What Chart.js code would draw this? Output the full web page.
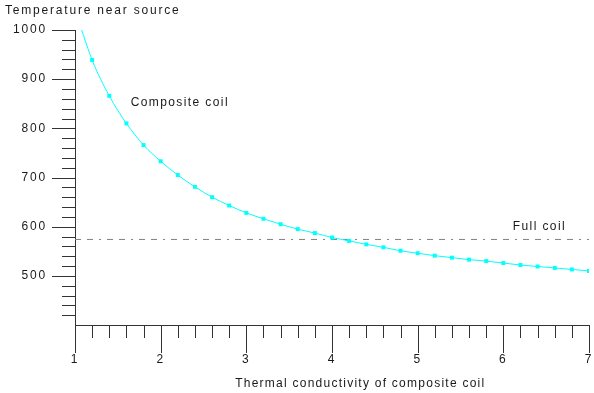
<!DOCTYPE html>
<html>
<head>
<meta charset="utf-8">
<script src="https://cdn.jsdelivr.net/npm/chart.js@4.4.1/dist/chart.umd.min.js"></script>
<style>
  body { margin: 0; background: #fff; }
  canvas { display: block; }
</style>
</head>
<body>
<canvas id="coilChart" width="594" height="393"></canvas>
<script>
// thermal conductivity of the composite coil (x) and temperature near source (y)
const conductivity = [1.0, 1.2, 1.4, 1.6, 1.8, 2.0, 2.2, 2.4, 2.6, 2.8, 3.0,
                      3.2, 3.4, 3.6, 3.8, 4.0, 4.2, 4.4, 4.6, 4.8, 5.0,
                      5.2, 5.4, 5.6, 5.8, 6.0, 6.2, 6.4, 6.6, 6.8, 7.0];
const compositeTemp = [1042, 939, 866, 810, 766, 733, 705, 681, 660, 643, 628,
                       616, 605, 595, 587, 578, 571, 564, 558, 551, 546,
                       541, 537, 533, 530, 526, 522, 519, 516, 513, 510];
const fullCoilTemp = 574;
const xRange = [1, 7];
const yRange = [400, 1000];

const axisColor = '#333';
const textColor = '#1a1a1a';
const fontFamily = '"Liberation Sans", Arial, Helvetica, sans-serif';

Chart.defaults.font.family = fontFamily;
Chart.defaults.font.size = 12;
Chart.defaults.color = textColor;

// wide letter spacing like the original plot
const spacing = {
    id: 'spacing',
    beforeDraw(chart) {
        chart.ctx.letterSpacing = '1.8px';
    }
};

// major and minor tick marks of different length, drawn from the scales
const tickMarks = {
    id: 'tickMarks',
    afterDraw(chart) {
        const ctx = chart.ctx;
        const x = chart.scales.x;
        const y = chart.scales.y;
        ctx.save();
        ctx.strokeStyle = axisColor;
        ctx.lineWidth = 1;
        ctx.beginPath();
        x.ticks.forEach(t => {
            const px = Math.round(x.getPixelForValue(t.value)) + 0.5;
            const major = Math.abs(t.value - Math.round(t.value)) < 1e-6;
            ctx.moveTo(px, x.top);
            ctx.lineTo(px, x.top + (major ? 28 : 13));
        });
        y.ticks.forEach(t => {
            if (t.value === yRange[0]) return;
            const py = Math.round(y.getPixelForValue(t.value)) + 0.5;
            const major = t.value % 100 === 0;
            ctx.moveTo(y.right - (major ? 23 : 13), py);
            ctx.lineTo(y.right, py);
        });
        ctx.stroke();
        ctx.restore();
    }
};

// curve names inside the plot and the x axis title (which sits off-centre in the original)
const freeText = {
    id: 'freeText',
    afterDatasetsDraw(chart, args, opts) {
        const ctx = chart.ctx;
        const x = chart.scales.x;
        const y = chart.scales.y;
        ctx.save();
        ctx.font = '12px ' + fontFamily;
        ctx.fillStyle = textColor;
        ctx.textBaseline = 'middle';
        ctx.textAlign = 'left';
        ctx.letterSpacing = '1.4px';
        opts.items.forEach(it => {
            ctx.fillText(it.text, x.getPixelForValue(it.x), y.getPixelForValue(it.y));
        });
        const t = opts.axisTitle;
        ctx.textAlign = 'center';
        ctx.letterSpacing = '1.25px';
        ctx.fillText(t.text, x.getPixelForValue(t.x), x.top + t.gap);
        ctx.restore();
    }
};

// fixed axis boxes, no extra room reserved for the end labels
function fixBox(size) {
    return scale => {
        if (scale.isHorizontal()) scale.height = size; else scale.width = size;
        scale.paddingLeft = scale.paddingRight = 0;
        scale.paddingTop = scale.paddingBottom = 0;
    };
}

new Chart(document.getElementById('coilChart'), {
    type: 'line',
    data: {
        datasets: [
            {
                label: 'Composite coil',
                data: conductivity.map((c, i) => ({ x: c, y: compositeTemp[i] })),
                borderColor: '#00ffff',
                backgroundColor: '#00ffff',
                borderWidth: 1,
                pointStyle: 'rect',
                pointRadius: 2.8,
                pointBorderWidth: 0,
                cubicInterpolationMode: 'monotone'
            },
            {
                label: 'Full coil',
                data: xRange.map(c => ({ x: c, y: fullCoilTemp })),
                borderColor: '#808080',
                borderWidth: 1,
                borderDash: [6, 6, 6, 6, 2, 6],
                pointRadius: 0
            }
        ]
    },
    options: {
        responsive: false,
        animation: false,
        layout: { padding: { left: 5, right: 5, top: 0, bottom: 0 } },
        plugins: {
            legend: { display: false },
            tooltip: { enabled: false },
            title: {
                display: true,
                text: 'Temperature near source',
                align: 'start',
                color: textColor,
                font: { size: 12, weight: 'normal' },
                padding: { top: 3.5, bottom: 12.1 }
            },
            freeText: {
                items: [
                    { text: 'Composite coil', x: 1.65, y: 852 },
                    { text: 'Full coil', x: 6.11, y: 599 }
                ],
                axisTitle: { text: 'Thermal conductivity of composite coil', x: 4.33, gap: 59 }
            }
        },
        scales: {
            x: {
                type: 'linear',
                min: xRange[0],
                max: xRange[1],
                afterFit: fixBox(68),
                grid: { display: false, drawTicks: false },
                border: { display: true, color: axisColor, width: 1 },
                ticks: {
                    stepSize: 0.2,
                    autoSkip: false,
                    maxRotation: 0,
                    padding: 27,
                    color: textColor,
                    callback: v => Math.abs(v - Math.round(v)) < 1e-6 ? String(Math.round(v)) : ''
                }
            },
            y: {
                min: yRange[0],
                max: yRange[1],
                afterFit: fixBox(70),
                grid: { display: false, drawTicks: false },
                border: { display: true, color: axisColor, width: 1 },
                ticks: {
                    stepSize: 20,
                    autoSkip: false,
                    padding: 28,
                    color: textColor,
                    callback: v => (v % 100 === 0 && v !== yRange[0]) ? String(v) : ''
                }
            }
        }
    },
    plugins: [spacing, tickMarks, freeText]
});
</script>
</body>
</html>
